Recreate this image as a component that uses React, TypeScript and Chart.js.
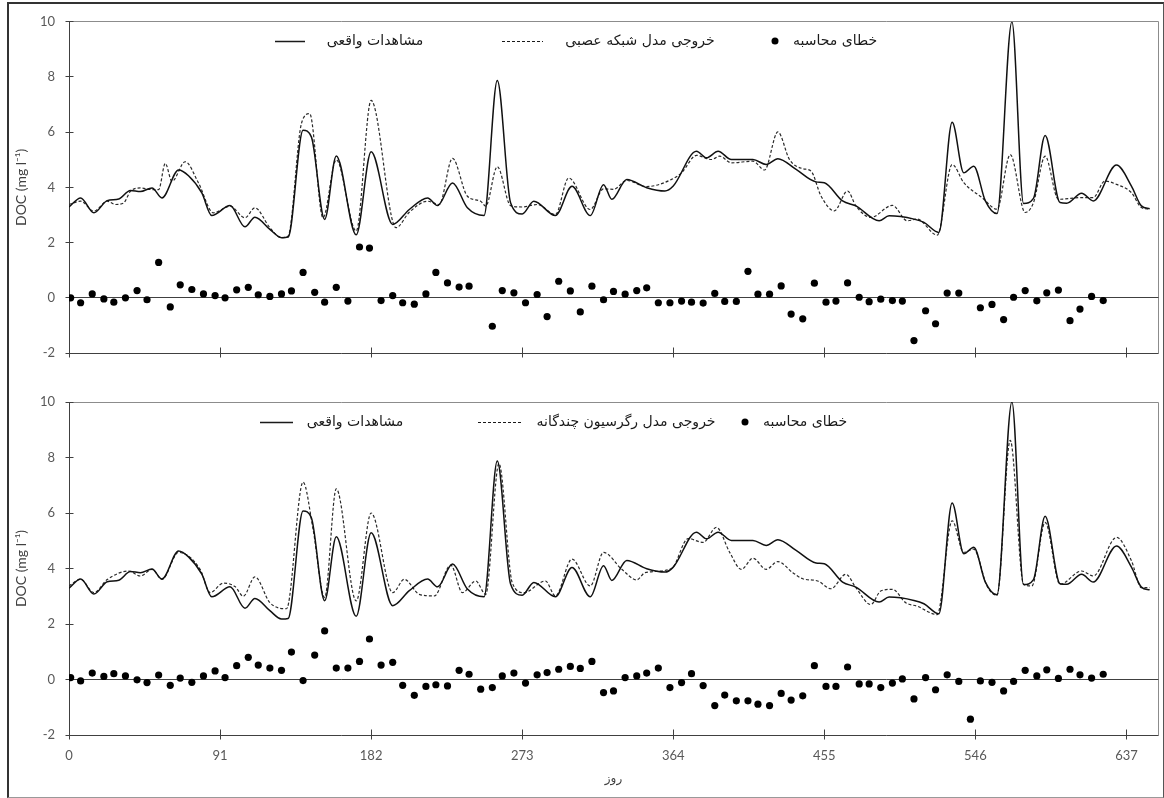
import React, { useEffect, useRef } from "react";
import { Chart, registerables } from "chart.js";

Chart.register(...registerables);

// ---------- data ----------
const xTickValues = [0, 91, 182, 273, 364, 455, 546, 637];
const yTickValues = [-2, 0, 2, 4, 6, 8, 10];
const X_MIN = 0;
const X_MAX = 656;
const Y_MIN = -2;
const Y_MAX = 10;

// observed DOC (same in both panels)
const obsDays = [0, 7, 15, 23, 30, 37, 43, 50, 56, 66, 72, 80, 86, 97, 106, 112, 121, 128, 132, 141, 146, 154, 161, 173, 182, 195, 205, 216, 222, 231, 240, 250, 258, 266, 273, 280, 293, 303, 314, 322, 327, 336, 348, 359, 364, 378, 384, 391, 399, 412, 420, 427, 438, 450, 455, 466, 474, 488, 494, 509, 515, 524, 532, 539, 545, 552, 559, 568, 575, 581, 588, 597, 601, 610, 617, 631, 640, 646, 651];
const obsValues = [3.29, 3.62, 3.08, 3.52, 3.58, 3.89, 3.85, 3.98, 3.62, 4.63, 4.42, 3.8, 2.98, 3.34, 2.57, 2.92, 2.48, 2.18, 2.2, 6.07, 5.83, 2.84, 5.14, 2.28, 5.29, 2.66, 3.2, 3.62, 3.34, 4.16, 3.26, 2.98, 7.87, 3.44, 3.04, 3.5, 2.98, 4.04, 2.98, 4.1, 3.57, 4.29, 3.99, 3.87, 4.05, 5.31, 5.07, 5.31, 5.01, 5.01, 4.83, 5.04, 4.65, 4.2, 4.17, 3.51, 3.33, 2.79, 2.97, 2.85, 2.73, 2.37, 6.36, 4.53, 4.77, 3.51, 3.05, 10, 3.42, 3.6, 5.88, 3.45, 3.43, 3.79, 3.51, 4.81, 4.05, 3.33, 3.23];

// neural network model output (upper panel)
const annDays = [0, 7, 15, 23, 28, 33, 37, 43, 50, 54, 58, 62, 70, 78, 87, 97, 106, 112, 121, 128, 132, 140, 145, 153, 161, 173, 182, 197, 205, 216, 223, 231, 240, 248, 251, 258, 266, 273, 282, 293, 301, 314, 322, 328, 336, 348, 363, 369, 378, 387, 392, 399, 412, 419, 427, 434, 442, 447, 453, 461, 469, 474, 483, 496, 505, 511, 523, 532, 539, 550, 559, 567, 576, 581, 588, 596, 610, 617, 624, 631, 640, 646, 651];
const annValues = [3.38, 3.5, 3.14, 3.5, 3.38, 3.44, 3.86, 3.98, 3.92, 3.92, 4.87, 4.22, 4.93, 4.16, 3.08, 3.32, 2.9, 3.26, 2.54, 2.18, 2.24, 6.31, 6.67, 2.9, 5.0, 2.42, 7.15, 2.54, 3.1, 3.5, 3.38, 5.05, 3.68, 3.5, 3.32, 4.75, 3.34, 3.29, 3.38, 3.02, 4.34, 3.2, 3.95, 3.93, 4.25, 4.03, 4.29, 4.53, 5.16, 5.01, 5.13, 4.89, 4.95, 4.63, 6.01, 5.01, 4.68, 4.59, 3.69, 3.15, 3.87, 3.33, 2.91, 3.35, 2.79, 2.85, 2.27, 4.83, 4.17, 3.63, 3.21, 5.19, 3.09, 3.45, 5.13, 3.57, 3.63, 3.63, 4.23, 4.11, 3.81, 3.27, 3.21];

// multiple regression model output (lower panel)
const mlrDays = [0, 7, 15, 23, 36, 43, 50, 56, 66, 79, 85, 93, 100, 105, 112, 121, 131, 141, 147, 154, 161, 173, 182, 195, 202, 211, 220, 230, 237, 245, 251, 259, 267, 274, 287, 293, 303, 314, 322, 333, 342, 347, 363, 373, 382, 390, 398, 405, 412, 420, 427, 436, 442, 451, 459, 468, 474, 483, 489, 496, 504, 511, 523, 532, 539, 545, 553, 559, 567, 575, 580, 588, 597, 610, 617, 631, 640, 646, 651];
const mlrValues = [3.37, 3.61, 3.13, 3.6, 3.91, 3.73, 3.97, 3.61, 4.58, 3.97, 3.13, 3.47, 3.35, 3.0, 3.7, 2.77, 2.55, 7.11, 5.42, 2.95, 6.87, 2.83, 6.0, 3.13, 3.61, 3.07, 3.01, 4.12, 3.13, 3.55, 3.07, 7.78, 3.49, 3.13, 3.55, 3.01, 4.34, 3.37, 4.58, 3.97, 3.59, 3.85, 4.0, 5.08, 4.94, 5.48, 4.58, 3.97, 4.37, 3.97, 4.25, 3.85, 3.63, 3.55, 3.27, 3.79, 3.31, 2.7, 3.19, 3.25, 2.77, 2.64, 2.34, 5.72, 4.58, 4.7, 3.37, 3.03, 8.62, 3.43, 3.37, 5.66, 3.43, 3.91, 3.73, 5.12, 4.28, 3.31, 3.31];

// calculation errors (sampling days shared by both panels)
const errDays = [1, 7, 14, 21, 27, 34, 41, 47, 54, 61, 67, 74, 81, 88, 94, 101, 108, 114, 121, 128, 134, 141, 148, 154, 161, 168, 175, 181, 188, 195, 201, 208, 215, 221, 228, 235, 241, 248, 255, 261, 268, 275, 282, 288, 295, 302, 308, 315, 322, 328, 335, 342, 348, 355, 362, 369, 375, 382, 389, 395, 402, 409, 415, 422, 429, 435, 442, 449, 456, 462, 469, 476, 482, 489, 496, 502, 509, 516, 522, 529, 536, 543, 549, 556, 563, 569, 576, 583, 589, 596, 603, 609, 616, 623];
const annErrors = [0, -0.18, 0.14, -0.04, -0.16, 0, 0.26, -0.07, 1.28, -0.33, 0.47, 0.3, 0.14, 0.08, 0, 0.29, 0.38, 0.11, 0.05, 0.14, 0.25, 0.92, 0.2, -0.16, 0.38, -0.12, 1.84, 1.8, -0.1, 0.08, -0.18, -0.23, 0.14, 0.92, 0.54, 0.39, 0.42, null, -1.03, 0.26, 0.18, -0.18, 0.12, -0.68, 0.6, 0.25, -0.51, 0.42, -0.07, 0.23, 0.13, 0.26, 0.36, -0.18, -0.18, -0.12, -0.16, -0.19, 0.16, -0.13, -0.13, 0.96, 0.13, 0.13, 0.43, -0.59, -0.76, 0.53, -0.16, -0.12, 0.54, 0.02, -0.14, -0.05, -0.1, -0.12, -1.55, -0.47, -0.94, 0.17, 0.17, null, -0.36, -0.24, -0.79, 0.02, 0.26, -0.11, 0.18, 0.28, -0.83, -0.41, 0.05, -0.1];
const mlrErrors = [0.07, -0.05, 0.23, 0.11, 0.21, 0.13, -0.01, -0.11, 0.16, -0.21, 0.05, -0.1, 0.13, 0.31, 0.07, 0.5, 0.8, 0.52, 0.41, 0.33, 0.99, -0.04, 0.88, 1.75, 0.41, 0.41, 0.65, 1.46, 0.52, 0.62, -0.21, -0.57, -0.25, -0.19, -0.23, 0.33, 0.19, -0.35, -0.29, 0.13, 0.23, -0.13, 0.17, 0.25, 0.37, 0.47, 0.4, 0.65, -0.47, -0.41, 0.07, 0.13, 0.23, 0.41, -0.29, -0.11, 0.21, -0.22, -0.94, -0.56, -0.77, -0.77, -0.89, -0.94, -0.5, -0.74, -0.59, 0.5, -0.25, -0.25, 0.45, -0.16, -0.16, -0.29, -0.13, 0.02, -0.7, 0.07, -0.37, 0.17, -0.07, -1.43, -0.05, -0.1, -0.41, -0.07, 0.33, 0.13, 0.35, 0.04, 0.37, 0.17, 0.05, 0.19];

const labelObserved = "مشاهدات واقعی";
const labelAnn = "خروجی مدل شبکه عصبی";
const labelMlr = "خروجی مدل رگرسیون چندگانه";
const labelError = "خطای محاسبه";
const xTitleText = "روز";
const yTitleText = "DOC (mg l⁻¹)";

// ---------- helpers ----------
const NUM_FONT = "Lato, 'Open Sans', sans-serif";
const FA_FONT = "'DejaVu Sans', sans-serif";
const crisp = (v: number) => Math.round(v - 0.5) + 0.5;

const toPoints = (xs: number[], ys: (number | null)[]) =>
  xs.map((x, i) => ({ x, y: ys[i] })).filter((p) => p.y !== null && p.y !== undefined);

type LegendItem = { kind: "line" | "dash" | "dot"; x1: number; x2?: number; tx: number; text: string };

const framePlugin = {
  id: "panelFrame",
  beforeDatasetsDraw(chart: any) {
    const { ctx, chartArea: a, scales } = chart;
    const xs = scales.x;
    const ys = scales.y;
    const L = crisp(a.left);
    const R = crisp(a.right);
    const T = crisp(a.top);
    const B = crisp(a.bottom);
    ctx.save();
    ctx.lineWidth = 1;
    ctx.strokeStyle = "#8c8c8c";
    ctx.beginPath();
    ctx.moveTo(L, T);
    ctx.lineTo(R, T);
    ctx.lineTo(R, B);
    ctx.stroke();
    ctx.strokeStyle = "#404040";
    ctx.beginPath();
    ctx.moveTo(L, T);
    ctx.lineTo(L, B);
    ctx.lineTo(R, B);
    const z = crisp(ys.getPixelForValue(0));
    ctx.moveTo(L, z);
    ctx.lineTo(R, z);
    yTickValues.forEach((v) => {
      const p = crisp(ys.getPixelForValue(v));
      ctx.moveTo(L - 4, p);
      ctx.lineTo(L + 4, p);
    });
    xTickValues.forEach((v) => {
      const p = crisp(xs.getPixelForValue(v));
      ctx.moveTo(p, B - 6);
      ctx.lineTo(p, B + 4);
    });
    ctx.stroke();
    ctx.restore();
  },
};

function makeLegendPlugin(items: LegendItem[], y: number) {
  return {
    id: "panelLegend",
    afterDatasetsDraw(chart: any) {
      const { ctx } = chart;
      ctx.save();
      items.forEach((it) => {
        ctx.strokeStyle = "#1a1a1a";
        ctx.fillStyle = "#000";
        if (it.kind === "dot") {
          ctx.beginPath();
          ctx.arc(it.x1, y, 3.5, 0, Math.PI * 2);
          ctx.fill();
        } else {
          ctx.lineWidth = it.kind === "line" ? 1.5 : 1.2;
          ctx.setLineDash(it.kind === "dash" ? [3, 2] : []);
          ctx.beginPath();
          ctx.moveTo(it.x1, y + 0.5);
          ctx.lineTo(it.x2 as number, y + 0.5);
          ctx.stroke();
          ctx.setLineDash([]);
        }
        ctx.font = `14px ${FA_FONT}`;
        ctx.fillStyle = "#1a1a1a";
        ctx.textAlign = "center";
        ctx.textBaseline = "middle";
        ctx.fillText(it.text, it.tx, y);
      });
      ctx.restore();
    },
  };
}

type PanelProps = {
  top: number;
  height: number;
  plotTop: number;
  plotBottom: number;
  modelDays: number[];
  modelValues: number[];
  errors: (number | null)[];
  legendItems: LegendItem[];
  legendY: number;
  showXLabels: boolean;
};

function Panel(p: PanelProps) {
  const ref = useRef<HTMLCanvasElement | null>(null);
  useEffect(() => {
    if (!ref.current) return;
    const chart = new Chart(ref.current, {
      type: "line",
      data: {
        datasets: [
          {
            label: "error",
            data: toPoints(errDays, p.errors) as any,
            showLine: false,
            pointRadius: 3.6,
            pointBackgroundColor: "#000",
            pointBorderWidth: 0,
            order: 0,
          },
          {
            label: "observed",
            data: toPoints(obsDays, obsValues) as any,
            borderColor: "#111111",
            borderWidth: 1.5,
            pointRadius: 0,
            cubicInterpolationMode: "monotone",
            fill: false,
            order: 1,
          },
          {
            label: "model",
            data: toPoints(p.modelDays, p.modelValues) as any,
            borderColor: "#2a2a2a",
            borderWidth: 1.2,
            borderDash: [3, 2],
            pointRadius: 0,
            cubicInterpolationMode: "monotone",
            fill: false,
            order: 2,
          },
        ],
      },
      options: {
        responsive: false,
        maintainAspectRatio: false,
        animation: false,
        events: [],
        layout: { padding: { top: p.plotTop, right: 6, left: 0, bottom: 0 } },
        plugins: { legend: { display: false }, tooltip: { enabled: false } },
        scales: {
          x: {
            type: "linear",
            min: X_MIN,
            max: X_MAX,
            grid: { display: false, drawTicks: false },
            border: { display: false },
            afterBuildTicks: (s: any) => {
              s.ticks = xTickValues.map((v) => ({ value: v }));
            },
            afterFit: (s: any) => {
              s.height = p.height - p.plotBottom;
            },
            ticks: {
              display: p.showXLabels,
              padding: 13,
              color: "#595959",
              font: { family: NUM_FONT, size: 13 },
              autoSkip: false,
              maxRotation: 0,
            },
            title: {
              display: p.showXLabels,
              text: xTitleText,
              color: "#404040",
              font: { family: FA_FONT, size: 12 },
              padding: { top: 0, bottom: 12 },
            },
          },
          y: {
            type: "linear",
            min: Y_MIN,
            max: Y_MAX,
            grid: { display: false, drawTicks: false },
            border: { display: false },
            afterBuildTicks: (s: any) => {
              s.ticks = yTickValues.map((v) => ({ value: v }));
            },
            afterFit: (s: any) => {
              s.width = 69;
            },
            ticks: {
              padding: 14,
              color: "#595959",
              font: { family: NUM_FONT, size: 13 },
            },
            title: {
              display: true,
              text: yTitleText,
              color: "#404040",
              font: { family: NUM_FONT, size: 14 },
              padding: { top: 13, bottom: 0 },
            },
          },
        },
      } as any,
      plugins: [framePlugin, makeLegendPlugin(p.legendItems, p.legendY)],
    });
    return () => chart.destroy();
  }, []);
  return (
    <canvas
      ref={ref}
      width={1164}
      height={p.height}
      style={{ position: "absolute", left: 0, top: p.top, width: 1164, height: p.height }}
    />
  );
}

export default function App() {
  return (
    <div
      style={{
        position: "fixed",
        left: 0,
        top: 0,
        width: 1164,
        height: 798,
        background: "#fff",
        overflow: "hidden",
      }}
    >
      <div
        style={{
          position: "absolute",
          left: 7,
          top: 2,
          width: 1157,
          height: 796,
          boxSizing: "border-box",
          borderTop: "2px solid #333",
          borderLeft: "2px solid #333",
          borderBottom: "1px solid #999",
          borderRight: "1px solid #555",
        }}
      />
      <Panel
        top={0}
        height={380}
        plotTop={20}
        plotBottom={353}
        modelDays={annDays}
        modelValues={annValues}
        errors={annErrors}
        legendY={41}
        legendItems={[
          { kind: "line", x1: 275, x2: 305, tx: 375, text: labelObserved },
          { kind: "dash", x1: 502, x2: 543, tx: 640, text: labelAnn },
          { kind: "dot", x1: 775, tx: 835, text: labelError },
        ]}
        showXLabels={false}
      />
      <Panel
        top={380}
        height={418}
        plotTop={22}
        plotBottom={355}
        modelDays={mlrDays}
        modelValues={mlrValues}
        errors={mlrErrors}
        legendY={42}
        legendItems={[
          { kind: "line", x1: 260, x2: 293, tx: 355, text: labelObserved },
          { kind: "dash", x1: 478, x2: 522, tx: 626, text: labelMlr },
          { kind: "dot", x1: 745, tx: 805, text: labelError },
        ]}
        showXLabels={true}
      />
    </div>
  );
}
